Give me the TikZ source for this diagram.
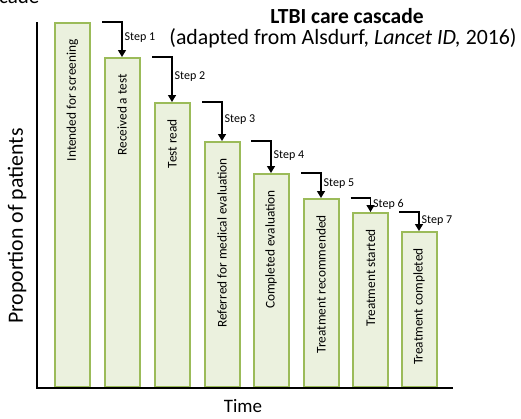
\documentclass[tikz,border=0pt]{standalone}
\usepackage{fontspec}
\setmainfont{Carlito}
\usetikzlibrary{shapes,arrows.meta}
\definecolor{barline}{RGB}{155,187,89}
\definecolor{barfill}{RGB}{235,241,222}
\tikzset{
  bar/.style={shape=rectangle,draw=barline,fill=barfill,line width=2pt,minimum width=35pt,inner sep=0pt,anchor=south},
  barlabel/.style={rotate=90,anchor=east,inner sep=2pt,font=\fontsize{13.3}{15}\selectfont},
  steparrow/.style={draw=black,line width=1.4pt,-{Triangle[width=8pt,length=7pt]}},
  steplabel/.style={anchor=west,inner sep=2pt,font=\fontsize{12}{14}\selectfont},
  axis/.style={draw=black,line width=2.5pt}
}

\begin{document}
\begin{tikzpicture}[x=1pt,y=-1pt]
\useasboundingbox (0,0) rectangle (521,418);
\node[anchor=base west,inner sep=0pt,font=\fontsize{21}{24}\selectfont] (frag) at (-1,3) {cade};

% bars
\node[bar,minimum height=364pt] (b1) at (72.5,388) {};
\node[bar,minimum height=329pt] (b2) at (122,388) {};
\node[bar,minimum height=284pt] (b3) at (172,388) {};
\node[bar,minimum height=245pt] (b4) at (222,388) {};
\node[bar,minimum height=213pt] (b5) at (271,388) {};
\node[bar,minimum height=188pt] (b6) at (321,388) {};
\node[bar,minimum height=174pt] (b7) at (370.5,388) {};
\node[bar,minimum height=155pt] (b8) at (419,388) {};

\node[barlabel] (t1) at ([yshift=-15pt]b1.north) {Intended for screening};
\node[barlabel] (t2) at ([yshift=-15pt]b2.north) {Received a test};
\node[barlabel] (t3) at ([yshift=-15pt]b3.north) {Test read};
\node[barlabel] (t4) at ([yshift=-15pt]b4.north) {Referred for medical evaluation};
\node[barlabel] (t5) at ([yshift=-15pt]b5.north) {Completed evaluation};
\node[barlabel] (t6) at ([yshift=-15pt]b6.north) {Treatment recommended};
\node[barlabel] (t7) at ([yshift=-15pt]b7.north) {Treatment started};
\node[barlabel] (t8) at ([yshift=-15pt]b8.north) {Treatment completed};

% steps
\draw[steparrow] ([xshift=-1.5pt]b2.west |- b1.north) -| (b2.north) node[steplabel,pos=0.72] {Step 1};
\draw[steparrow] ([xshift=-1.5pt]b3.west |- b2.north) -| (b3.north) node[steplabel,pos=0.72] {Step 2};
\draw[steparrow] ([xshift=-1.5pt]b4.west |- b3.north) -| (b4.north) node[steplabel,pos=0.72] {Step 3};
\draw[steparrow] ([xshift=-1.5pt]b5.west |- b4.north) -| (b5.north) node[steplabel,pos=0.72] {Step 4};
\draw[steparrow] ([xshift=-1.5pt]b6.west |- b5.north) -| (b6.north) node[steplabel,pos=0.72] {Step 5};
\draw[steparrow] ([xshift=-1.5pt]b7.west |- b6.north) -| (b7.north) node[steplabel,pos=0.72] {Step 6};
\draw[steparrow] ([xshift=-1.5pt]b8.west |- b7.north) -| (b8.north) node[steplabel,pos=0.72] {Step 7};

% axes
\coordinate (ytop) at (37,22);
\coordinate (orig) at (37,388);
\coordinate (xend) at (453,388);
\draw[axis] (ytop) -- (orig) -- (xend);

\node[rotate=90,font=\fontsize{21.8}{24}\selectfont] (ylab) at (17,226) {Proportion of patients};
\node[font=\fontsize{19}{22}\selectfont] (xlab) at (243,406) {Time};

% title
\node[font=\fontsize{21.5}{24}\selectfont\bfseries] (title) at (347,16) {LTBI care cascade};
\node[font=\fontsize{21.8}{24}\selectfont] (subtitle) at (343,38) {(adapted from Alsdurf, \textit{Lancet ID,} 2016)};
\end{tikzpicture}
\end{document}
